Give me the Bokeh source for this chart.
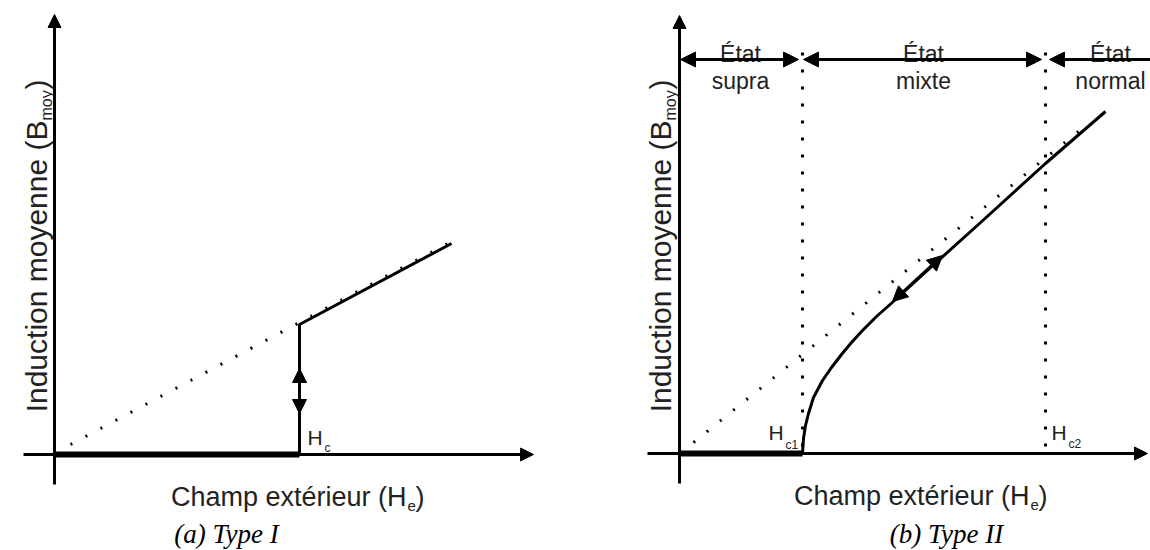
import math
from bokeh.plotting import figure
from bokeh.layouts import row
from bokeh.models import Range1d, Arrow, NormalHead
from bokeh.embed import file_html
from bokeh.resources import INLINE
from bokeh.core.properties import value

# ---------------- data (arbitrary units, origin = axes crossing) ----------------
# Type I superconductor
t1_meissner_h = [0, 245]
t1_meissner_b = [0, 0]
t1_normal_h = [245, 245, 397]          # jump at Hc then normal state B = mu0 H
t1_normal_b = [0, 130, 211]
t1_ref_h = [16, 397]                   # dotted reference line B = mu0 H
t1_ref_b = [10, 213]
t1_hc = 245
t1_jump_arrow_b = [41, 86]
t1_axis_h = [-31, 479]
t1_axis_b = [-30, 440]

# Type II superconductor
t2_meissner_h = [0, 123]
t2_meissner_b = [0, 0]
t2_mixed_h = [123, 124, 126, 129, 134, 143, 152, 162, 172, 183, 197, 215, 250, 300, 366, 426]
t2_mixed_b = [0, 15, 28, 40, 56, 73, 86, 99, 111, 123, 137, 153, 185, 230, 290, 342]
t2_ref_h = [14, 410]
t2_ref_b = [11, 331]
t2_hc1 = 123
t2_hc2 = 366
t2_crit_b = [7, 413]                   # extent of the dotted Hc1 / Hc2 verticals
t2_curve_arrow_h = [213, 263]
t2_curve_arrow_b = [152, 198]
t2_axis_h = [-32, 468]
t2_axis_b = [-30, 438]
t2_state_b = 394
t2_state_h = [1, 119, 124, 362, 370, 471]
t2_state_titles = ["État", "État", "État"]
t2_state_names = ["supra", "mixte", "normal"]
t2_state_centers = [61, 244, 431]

FONT = "Liberation Sans"
SERIF = "Liberation Serif"
TXT = "#222222"


def make_fig(w, xr, yr):
    p = figure(width=w, height=550, x_range=Range1d(*xr), y_range=Range1d(*yr),
               output_backend="svg", toolbar_location=None, min_border=0,
               x_axis_location=None, y_axis_location=None)
    p.grid.visible = False
    p.outline_line_color = None
    p.background_fill_color = "white"
    p.border_fill_color = "white"
    return p


def head(size):
    return NormalHead(size=size, fill_color="black", line_color="black", line_width=1)


def arrow(p, x0, y0, x1, y1, start=False, end=True, size=14, lw=3):
    p.add_layout(Arrow(x_start=x0, y_start=y0, x_end=x1, y_end=y1,
                       start=head(size) if start else None,
                       end=head(size) if end else None,
                       line_width=lw, line_color="black"))


def txt(p, x, y, s, size, align="left", angle=0.0, font=FONT, style="normal",
        color=TXT, xo=0, yo=0):
    p.text(x=[x], y=[y], text=[s], text_font=value(font), text_font_size=f"{size}px",
           text_align=align, text_baseline="alphabetic", angle=angle,
           text_color=color, text_font_style=style, x_offset=xo, y_offset=yo)


def axes_labels(p, xl_anchor, xl_base, yl_h, yl_end):
    # x label with subscript
    txt(p, xl_anchor, xl_base, "Champ extérieur (H", 27, align="right")
    txt(p, xl_anchor, xl_base, "e", 15, xo=1, yo=9)
    txt(p, xl_anchor, xl_base, ")", 27, xo=9)
    # y label (rotated) with subscript
    a = math.pi / 2
    txt(p, yl_h, yl_end, "Induction moyenne (B", 30, align="right", angle=a)
    txt(p, yl_h, yl_end, "moy", 16, angle=a, xo=10)
    txt(p, yl_h, yl_end, ")", 30, angle=a, yo=-31)


# ---------------- panel (a) Type I ----------------
p1 = make_fig(590, (-54, 536), (-96, 454))
arrow(p1, t1_axis_h[0], 0, t1_axis_h[1], 0, size=13)
arrow(p1, 0, t1_axis_b[0], 0, t1_axis_b[1], size=13)
p1.line(t1_ref_h, t1_ref_b, line_color="black", line_width=3, line_dash="2 15")
p1.line(t1_meissner_h, t1_meissner_b, line_color="black", line_width=6)
p1.line(t1_normal_h, t1_normal_b, line_color="black", line_width=3)
arrow(p1, t1_hc, t1_jump_arrow_b[0], t1_hc, t1_jump_arrow_b[1], start=True, end=True, size=14)
txt(p1, t1_hc + 8, 17, "H", 21)
txt(p1, t1_hc + 8, 17, "c", 12, xo=17, yo=10)
axes_labels(p1, 352, -42, -18, 334)
txt(p1, 172, -79, "(a) Type I", 27, align="center", font=SERIF, style="italic", color="black")

# ---------------- panel (b) Type II ----------------
p2 = make_fig(560, (-89, 471), (-97, 453))
arrow(p2, t2_axis_h[0], 0, t2_axis_h[1], 0, size=13)
arrow(p2, 0, t2_axis_b[0], 0, t2_axis_b[1], size=13)
for hcv in (t2_hc1, t2_hc2):
    p2.line([hcv, hcv], t2_crit_b, line_color="black", line_width=3, line_dash="3 14")
p2.line(t2_ref_h, t2_ref_b, line_color="black", line_width=3, line_dash="2 15")
p2.line(t2_meissner_h, t2_meissner_b, line_color="black", line_width=6)
p2.line(t2_mixed_h, t2_mixed_b, line_color="black", line_width=3, line_join="round")
arrow(p2, t2_curve_arrow_h[0], t2_curve_arrow_b[0], t2_curve_arrow_h[1], t2_curve_arrow_b[1],
      start=True, end=True, size=15)
# state arrows on top
arrow(p2, t2_state_h[0], t2_state_b, t2_state_h[1], t2_state_b, start=True, end=True, size=15)
arrow(p2, t2_state_h[2], t2_state_b, t2_state_h[3], t2_state_b, start=True, end=True, size=15)
arrow(p2, t2_state_h[4], t2_state_b, t2_state_h[5], t2_state_b, start=True, end=False, size=15)
for c, t, n in zip(t2_state_centers, t2_state_titles, t2_state_names):
    txt(p2, c, t2_state_b + 6, t, 23, align="center")
    txt(p2, c, t2_state_b - 21, n, 23, align="center")
txt(p2, t2_hc1 - 34, 21, "H", 21)
txt(p2, t2_hc1 - 34, 21, "c1", 12, xo=17, yo=12)
txt(p2, t2_hc2 + 6, 21, "H", 21)
txt(p2, t2_hc2 + 6, 21, "c2", 12, xo=17, yo=11)
axes_labels(p2, 350, -42, -19, 333)
txt(p2, 267, -80, "(b) Type II", 27, align="center", font=SERIF, style="italic", color="black")

layout = row(p1, p2)
open("out.html", "w").write(file_html(layout, INLINE))
